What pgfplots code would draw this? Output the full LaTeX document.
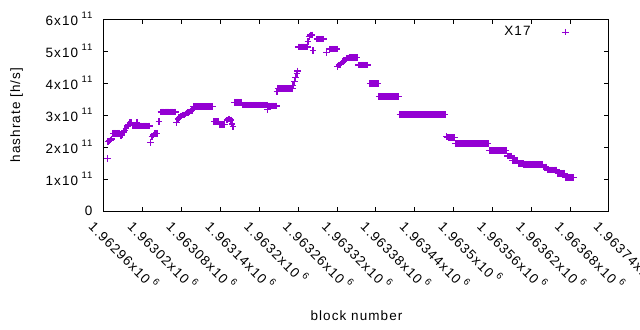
\documentclass[border=0pt]{standalone}
\usepackage{fontspec}
\setmainfont{Liberation Sans}[LetterSpace=8]
\usepackage{pgfplots}
\usepackage{pgfplotstable}
\pgfplotsset{compat=1.18}
\definecolor{gp}{HTML}{9400D3}
\newcommand\sx[1]{\hspace{3.5bp}\raisebox{7bp}{\fontsize{9.5bp}{10bp}\selectfont #1}}
% block number, hashrate
\pgfplotstableread[row sep=\\]{
block h\\
1962965 1.65e11\\
1962966 2.17e11\\ 1962968 2.19e11\\ 1962970 2.22e11\\ 1962972 2.25e11\\
1962974 2.43e11\\ 1962976 2.43e11\\ 1962978 2.43e11\\ 1962980 2.43e11\\ 1962982 2.43e11\\ 1962984 2.43e11\\ 1962986 2.36e11\\ 1962988 2.38e11\\
1962990 2.47e11\\ 1962992 2.52e11\\ 1962994 2.58e11\\
1962996 2.66e11\\ 1962998 2.70e11\\
1963000 2.77e11\\ 1963002 2.77e11\\
1963004 2.67e11\\ 1963006 2.67e11\\ 1963008 2.67e11\\ 1963010 2.67e11\\ 1963011 2.77e11\\
1963012 2.66e11\\ 1963014 2.66e11\\ 1963016 2.66e11\\ 1963018 2.66e11\\ 1963020 2.66e11\\ 1963022 2.66e11\\ 1963024 2.66e11\\ 1963026 2.66e11\\ 1963028 2.66e11\\ 1963030 2.66e11\\
1963032 2.15e11\\
1963034 2.33e11\\ 1963036 2.38e11\\ 1963038 2.42e11\\ 1963040 2.43e11\\ 1963042 2.43e11\\
1963045 2.79e11\\
1963048 3.10e11\\ 1963050 3.10e11\\ 1963052 3.10e11\\ 1963054 3.10e11\\ 1963056 3.10e11\\ 1963058 3.10e11\\ 1963060 3.10e11\\ 1963062 3.10e11\\ 1963064 3.10e11\\ 1963066 3.10e11\\ 1963068 3.10e11\\ 1963070 3.10e11\\
1963072 2.77e11\\
1963074 2.88e11\\ 1963076 2.92e11\\ 1963078 2.95e11\\ 1963080 2.97e11\\
1963082 3.00e11\\ 1963084 3.00e11\\ 1963086 3.03e11\\
1963088 3.06e11\\ 1963090 3.08e11\\ 1963092 3.10e11\\ 1963094 3.12e11\\ 1963096 3.15e11\\
1963098 3.27e11\\ 1963100 3.27e11\\ 1963102 3.27e11\\ 1963104 3.27e11\\ 1963106 3.27e11\\ 1963108 3.27e11\\ 1963110 3.27e11\\ 1963112 3.27e11\\ 1963114 3.27e11\\ 1963116 3.27e11\\ 1963118 3.27e11\\ 1963120 3.27e11\\ 1963122 3.27e11\\ 1963124 3.27e11\\ 1963126 3.27e11\\ 1963128 3.27e11\\
1963130 2.79e11\\ 1963132 2.79e11\\ 1963134 2.79e11\\ 1963136 2.79e11\\
1963138 2.71e11\\ 1963140 2.71e11\\ 1963142 2.71e11\\ 1963144 2.71e11\\ 1963146 2.71e11\\
1963150 2.84e11\\ 1963152 2.87e11\\ 1963154 2.87e11\\ 1963156 2.85e11\\ 1963158 2.72e11\\ 1963159 2.65e11\\
1963162 3.40e11\\ 1963164 3.40e11\\ 1963166 3.40e11\\ 1963168 3.40e11\\ 1963170 3.40e11\\ 1963172 3.40e11\\
1963174 3.31e11\\ 1963176 3.31e11\\ 1963178 3.31e11\\ 1963180 3.31e11\\ 1963182 3.31e11\\ 1963184 3.31e11\\ 1963186 3.31e11\\ 1963188 3.31e11\\ 1963190 3.31e11\\ 1963192 3.31e11\\ 1963194 3.31e11\\ 1963196 3.31e11\\ 1963198 3.31e11\\ 1963200 3.31e11\\ 1963202 3.31e11\\ 1963204 3.31e11\\ 1963206 3.31e11\\ 1963208 3.31e11\\ 1963210 3.31e11\\ 1963212 3.31e11\\
1963213 3.17e11\\ 1963214 3.28e11\\ 1963216 3.28e11\\ 1963218 3.28e11\\ 1963220 3.28e11\\ 1963222 3.28e11\\ 1963224 3.28e11\\ 1963226 3.28e11\\
1963227 3.73e11\\
1963229 3.83e11\\ 1963231 3.83e11\\ 1963233 3.83e11\\ 1963235 3.83e11\\ 1963237 3.83e11\\ 1963239 3.83e11\\ 1963241 3.83e11\\ 1963243 3.83e11\\ 1963245 3.83e11\\ 1963247 3.83e11\\ 1963249 3.83e11\\ 1963251 3.83e11\\
1963252 3.93e11\\ 1963254 4.04e11\\ 1963256 4.17e11\\ 1963258 4.30e11\\ 1963259 4.38e11\\
1963260 5.13e11\\ 1963262 5.13e11\\ 1963264 5.13e11\\ 1963266 5.13e11\\ 1963268 5.13e11\\ 1963270 5.13e11\\ 1963272 5.13e11\\ 1963274 5.13e11\\
1963275 5.29e11\\
1963277 5.46e11\\ 1963279 5.50e11\\ 1963281 5.50e11\\
1963283 5.02e11\\
1963289 5.37e11\\ 1963291 5.37e11\\ 1963293 5.37e11\\ 1963295 5.37e11\\ 1963297 5.37e11\\ 1963299 5.37e11\\
1963304 4.96e11\\
1963308 5.06e11\\ 1963310 5.06e11\\ 1963312 5.06e11\\ 1963314 5.06e11\\ 1963316 5.06e11\\ 1963318 5.06e11\\ 1963320 5.06e11\\
1963321 4.52e11\\ 1963323 4.56e11\\ 1963325 4.58e11\\ 1963327 4.62e11\\
1963329 4.68e11\\ 1963331 4.70e11\\ 1963333 4.72e11\\ 1963335 4.76e11\\ 1963337 4.78e11\\
1963339 4.79e11\\ 1963341 4.79e11\\ 1963343 4.79e11\\ 1963345 4.79e11\\ 1963347 4.79e11\\ 1963349 4.79e11\\ 1963351 4.79e11\\
1963353 4.56e11\\ 1963355 4.56e11\\ 1963357 4.56e11\\ 1963359 4.56e11\\ 1963361 4.56e11\\ 1963363 4.56e11\\ 1963365 4.56e11\\ 1963367 4.56e11\\
1963371 3.99e11\\ 1963373 3.99e11\\ 1963375 3.99e11\\ 1963377 3.99e11\\ 1963379 3.99e11\\ 1963381 3.99e11\\ 1963383 3.99e11\\
1963385 3.57e11\\ 1963387 3.57e11\\ 1963389 3.57e11\\ 1963391 3.57e11\\ 1963393 3.57e11\\ 1963395 3.57e11\\ 1963397 3.57e11\\ 1963399 3.57e11\\ 1963401 3.57e11\\ 1963403 3.57e11\\ 1963405 3.57e11\\ 1963407 3.57e11\\ 1963409 3.57e11\\ 1963411 3.57e11\\ 1963413 3.57e11\\ 1963415 3.57e11\\
1963417 3.02e11\\ 1963419 3.02e11\\ 1963421 3.02e11\\ 1963423 3.02e11\\ 1963425 3.02e11\\ 1963427 3.02e11\\ 1963429 3.02e11\\ 1963431 3.02e11\\ 1963433 3.02e11\\ 1963435 3.02e11\\ 1963437 3.02e11\\ 1963439 3.02e11\\ 1963441 3.02e11\\ 1963443 3.02e11\\ 1963445 3.02e11\\ 1963447 3.02e11\\ 1963449 3.02e11\\ 1963451 3.02e11\\
1963453 3.02e11\\ 1963455 3.02e11\\ 1963457 3.02e11\\ 1963459 3.02e11\\ 1963461 3.02e11\\ 1963463 3.02e11\\ 1963465 3.02e11\\ 1963467 3.02e11\\ 1963469 3.02e11\\ 1963471 3.02e11\\ 1963473 3.02e11\\ 1963475 3.02e11\\ 1963477 3.02e11\\ 1963479 3.02e11\\ 1963481 3.02e11\\ 1963483 3.02e11\\ 1963485 3.02e11\\ 1963487 3.02e11\\
1963489 2.33e11\\ 1963491 2.31e11\\ 1963493 2.30e11\\ 1963495 2.30e11\\ 1963497 2.30e11\\ 1963499 2.30e11\\ 1963501 2.30e11\\
1963503 2.11e11\\ 1963505 2.11e11\\ 1963507 2.11e11\\ 1963509 2.11e11\\ 1963511 2.11e11\\ 1963513 2.11e11\\ 1963515 2.11e11\\ 1963517 2.11e11\\ 1963519 2.11e11\\ 1963521 2.11e11\\ 1963523 2.11e11\\ 1963525 2.11e11\\ 1963527 2.11e11\\
1963529 2.11e11\\ 1963531 2.11e11\\ 1963533 2.11e11\\ 1963535 2.11e11\\ 1963537 2.11e11\\ 1963539 2.11e11\\ 1963541 2.11e11\\ 1963543 2.11e11\\ 1963545 2.11e11\\ 1963547 2.11e11\\ 1963549 2.11e11\\ 1963551 2.11e11\\ 1963553 2.11e11\\
1963555 1.89e11\\ 1963557 1.89e11\\ 1963559 1.89e11\\ 1963561 1.89e11\\ 1963563 1.89e11\\ 1963565 1.89e11\\ 1963567 1.89e11\\ 1963569 1.89e11\\ 1963571 1.89e11\\ 1963573 1.89e11\\ 1963575 1.89e11\\ 1963577 1.89e11\\ 1963579 1.89e11\\ 1963581 1.89e11\\
1963583 1.72e11\\ 1963585 1.72e11\\ 1963587 1.72e11\\ 1963589 1.72e11\\
1963591 1.57e11\\ 1963593 1.57e11\\ 1963595 1.57e11\\ 1963597 1.57e11\\ 1963599 1.57e11\\
1963601 1.49e11\\ 1963603 1.49e11\\ 1963605 1.49e11\\ 1963607 1.49e11\\
1963609 1.46e11\\ 1963611 1.46e11\\ 1963613 1.46e11\\ 1963615 1.46e11\\ 1963617 1.46e11\\ 1963619 1.46e11\\ 1963621 1.46e11\\ 1963623 1.46e11\\ 1963625 1.46e11\\ 1963627 1.46e11\\ 1963629 1.46e11\\ 1963631 1.46e11\\ 1963633 1.46e11\\ 1963635 1.46e11\\ 1963637 1.46e11\\
1963639 1.38e11\\ 1963641 1.38e11\\ 1963643 1.38e11\\
1963645 1.28e11\\ 1963647 1.28e11\\ 1963649 1.28e11\\ 1963651 1.28e11\\ 1963653 1.28e11\\ 1963655 1.28e11\\ 1963657 1.28e11\\ 1963659 1.28e11\\
1963661 1.18e11\\ 1963663 1.18e11\\ 1963665 1.18e11\\ 1963667 1.18e11\\ 1963669 1.18e11\\ 1963671 1.18e11\\
1963673 1.05e11\\ 1963675 1.05e11\\ 1963677 1.05e11\\ 1963679 1.05e11\\ 1963681 1.05e11\\ 1963683 1.05e11\\ 1963685 1.05e11\\
}\hashdata
% exact integer offset from block 1962960 (avoids floating point rounding of large block numbers)
\pgfplotstableset{create on use/boff/.style={create col/assign/.code={%
  \getthisrow{block}\tmpblock
  \edef\tmpoff{\the\numexpr\tmpblock-1962960\relax}%
  \pgfkeyslet{/pgfplots/table/create col/next content}\tmpoff}}}
\begin{document}
\fontsize{13.5bp}{16bp}\selectfont
\begin{tikzpicture}
\useasboundingbox (-104bp,-119bp) rectangle (536bp,211bp);
\begin{axis}[
  at={(0,0)}, anchor=south west,
  scale only axis, width=505bp, height=192bp,
  xmin=0, xmax=780, ymin=0, ymax=6e11,
  xtick={0,60,120,180,240,300,360,420,480,540,600,660,720,780},
  xticklabels={1.96296x10\sx{6},1.96302x10\sx{6},1.96308x10\sx{6},1.96314x10\sx{6},1.9632x10\sx{6},1.96326x10\sx{6},1.96332x10\sx{6},1.96338x10\sx{6},1.96344x10\sx{6},1.9635x10\sx{6},1.96356x10\sx{6},1.96362x10\sx{6},1.96368x10\sx{6},1.96374x10\sx{6}},
  ytick={0,1e11,2e11,3e11,4e11,5e11,6e11},
  yticklabels={0,1x10\sx{11},2x10\sx{11},3x10\sx{11},4x10\sx{11},5x10\sx{11},6x10\sx{11}},
  scaled ticks=false,
  tick align=inside, major tick length=4.5bp,
  axis line style={line width=1bp},
  every tick/.style={line width=1bp, black},
  xticklabel style={rotate=-45, anchor=north west, xshift=-4bp, yshift=-5bp},
  yticklabel style={anchor=east, xshift=-7bp},
  xlabel={block number},
  ylabel={hashrate [h/s]},
  xlabel style={at={(axis description cs:0.5,-0.547)}, anchor=center},
  ylabel style={at={(axis description cs:-0.173,0.5)}, anchor=center},
  legend style={draw=none, fill=none, at={(axis description cs:0.927,0.932)}, anchor=east},
  legend plot pos=right,
  legend image code/.code={\path (0bp,0bp) (35bp,0bp); \draw[#1, line width=0.9bp] plot coordinates {(32bp,0bp)};},
]
\addplot[only marks, mark=+, mark size=3.3bp, color=gp, line width=1.4bp] table[x=boff, y=h] {\hashdata};
\addlegendentry{X17}
\end{axis}
\end{tikzpicture}
\end{document}
